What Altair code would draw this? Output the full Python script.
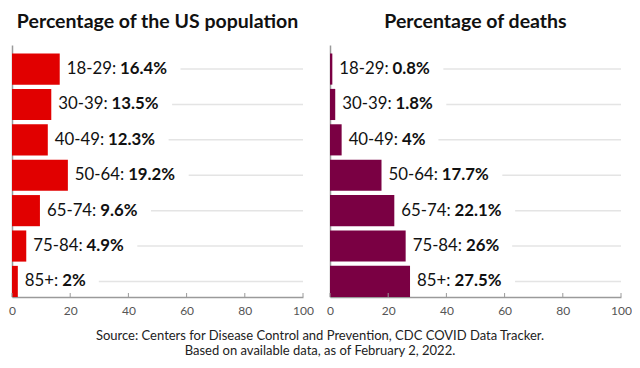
import altair as alt
import pandas as pd

ages = ["18-29", "30-39", "40-49", "50-64", "65-74", "75-84", "85+"]
population = [16.4, 13.5, 12.3, 19.2, 9.6, 4.9, 2]
deaths = [0.8, 1.8, 4, 17.7, 22.1, 26, 27.5]
tick_values = [0, 20, 40, 60, 80, 100]

titles = ["Percentage of the US population", "Percentage of deaths"]
colors = ["#e10000", "#7a0043"]
source_lines = [
    "Source: Centers for Disease Control and Prevention, CDC COVID Data Tracker.",
    "Based on available data, as of February 2, 2022.",
]

FONT = "Lato"
W, H = 291, 252
FS = 16.8
PPU = W / 100.0

REG = {"-": 0.36, ":": 0.27, " ": 0.22, "+": 0.58, "%": 0.80, ".": 0.26}
BLD = {"-": 0.36, ":": 0.27, " ": 0.22, "+": 0.58, "%": 0.82, ".": 0.27}


def text_width(s, table):
    return sum(table.get(c, 0.58) for c in s) * FS


def panel(values, color, title):
    rows = []
    for a, v in zip(ages, values):
        cat = a + ": "
        val = f"{v:g}%"
        wc = text_width(cat, REG)
        wv = text_width(val, BLD)
        rows.append({
            "age": a,
            "value": v,
            "cat": cat,
            "val": val,
            "x_bold": v + wc / PPU,
            "x_line": v + (wc + wv + 7 + 13) / PPU,
            "x_end": 100,
        })
    df = pd.DataFrame(rows)
    ticks = pd.DataFrame({"t": tick_values})

    xs = alt.Scale(domain=[0, 100], nice=False)
    ysc = alt.Scale(domain=ages, paddingInner=0.12, paddingOuter=0.12, align=1)
    y = alt.Y("age:N", sort=ages, scale=ysc,
              axis=alt.Axis(title=None, labels=False, ticks=False, grid=False,
                            domain=True, domainColor="#9a9a9a", domainWidth=1.5))
    xaxis = alt.Axis(title=None, values=tick_values, grid=False, ticks=False,
                     domainColor="#9a9a9a", domainWidth=1.5, labelFont=FONT,
                     labelFontSize=12, labelColor="#555555", labelPadding=8,
                     labelFlush=False)

    base = alt.Chart(df)
    lines = base.mark_rule(color="#e4e4e4", strokeWidth=1.5).encode(
        x=alt.X("x_line:Q", scale=xs, axis=xaxis), x2="x_end:Q", y=y)
    bars = base.mark_bar(color=color).encode(
        x=alt.X("value:Q", scale=xs, axis=xaxis), y=y)
    t1 = base.mark_text(align="left", baseline="middle", dx=7, font=FONT,
                        fontSize=FS, color="#111111").encode(
        x=alt.X("value:Q", scale=xs), y=y, text="cat:N")
    t2 = base.mark_text(align="left", baseline="middle", dx=7, font=FONT,
                        fontSize=FS, fontWeight="bold", color="#111111").encode(
        x=alt.X("x_bold:Q", scale=xs), y=y, text="val:N")
    tk = alt.Chart(ticks).mark_rule(color="#9a9a9a", strokeWidth=1).encode(
        x=alt.X("t:Q", scale=xs), y=alt.value(H - 4), y2=alt.value(H))

    return alt.layer(lines, bars, t1, t2, tk).properties(
        width=W, height=H,
        title=alt.TitleParams(title, font=FONT, fontSize=19.5, fontWeight="bold",
                              color="#111111", anchor="middle", offset=13),
    )


left = panel(population, colors[0], titles[0])
right = panel(deaths, colors[1], titles[1])

chart = alt.hconcat(left, right, spacing=27, bounds="flush").properties(
    padding={"left": 0, "right": 0, "top": 3, "bottom": 0},
    title=alt.TitleParams(source_lines, orient="bottom", anchor="middle",
                          font=FONT, fontSize=13, fontWeight="normal",
                          color="#222222", lineHeight=15, offset=14),
).configure_view(stroke=None)

chart.save("out.html", embed_options={"renderer": "svg", "actions": False})
